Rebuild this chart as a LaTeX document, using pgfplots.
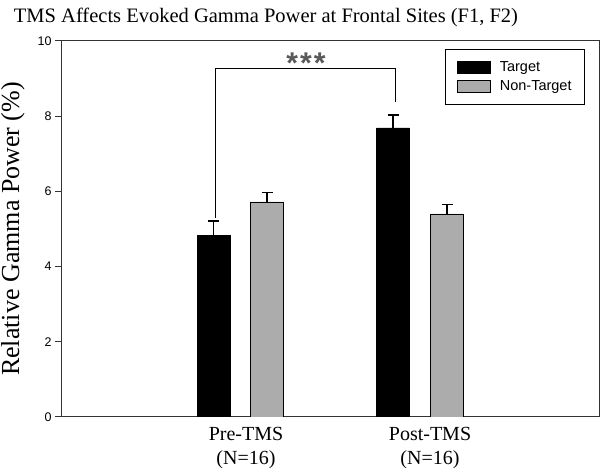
\documentclass[border=0pt]{standalone}
\usepackage{fontspec}
\setmainfont{Liberation Serif}
\newfontfamily\arial{Liberation Sans}
\usepackage{pgfplots}
\pgfplotsset{compat=1.18}
\definecolor{ntgray}{RGB}{172,172,172}

\begin{document}
\begin{tikzpicture}
\begin{axis}[
    name=ax,
    scale only axis,
    width=537pt, height=376pt,
    xmin=62, xmax=599,
    ymin=0, ymax=10,
    ytick={0,2,4,6,8,10},
    xtick={246,430},
    xticklabels={{Pre-TMS\\(N=16)},{Post-TMS\\(N=16)}},
    xticklabel style={align=center, font=\fontsize{20}{24}\selectfont},
    major x tick style={draw=none},
    yticklabel style={font=\arial\fontsize{12.5}{14}\selectfont},
    /pgf/number format/assume math mode=true,
    ytick pos=left,
    tick align=outside,
    major tick length=7pt,
    tick style={line width=1pt, black!80},
    axis line style={line width=1pt, black!80},
    ylabel={Relative Gamma Power (\%)},
    ylabel style={font=\fontsize{26}{30}\selectfont, inner sep=0pt,
        at={(axis description cs:-0.069,0.5)}, anchor=south},
    ybar, bar width=33pt, bar shift=0pt,
    legend image code/.code={
        \draw[#1, line width=0.6pt] (0pt,-6pt) rectangle (33pt,6pt);
        \path[draw=none, fill=none] (0pt,0pt) -- (41pt,0pt);},
    legend style={at={(1,1)}, xshift=-14pt, yshift=-8pt, anchor=north east,
        draw=black, line width=0.9pt, font=\arial\fontsize{14.5}{17}\selectfont,
        inner xsep=11pt, inner ysep=10pt, row sep=4pt, cells={anchor=west}},
]
% target
\addplot[fill=black, draw=black, line width=0.6pt,
    error bars/.cd, y dir=plus, y explicit,
    error bar style={line width=1.2pt, black},
    error mark options={rotate=90, mark size=5.5pt, line width=1.2pt, black}]
    coordinates {(213.5,4.84) +- (0,0.37) (393,7.69) +- (0,0.34)};
% non-target
\addplot[fill=ntgray, draw=black, line width=0.6pt,
    error bars/.cd, y dir=plus, y explicit,
    error bar style={line width=1.2pt, black},
    error mark options={rotate=90, mark size=5.5pt, line width=1.2pt, black}]
    coordinates {(267,5.72) +- (0,0.24) (447,5.40) +- (0,0.26)};
\legend{Target, Non-Target}

\draw[line width=1pt] (axis cs:215,5.3) -- (axis cs:215,9.26) -- (axis cs:395,9.26) -- (axis cs:395,8.38);
\node[font=\arial\bfseries\fontsize{30}{30}\selectfont, black!65] at (axis cs:306,9.42) {*\kern2pt*\kern2pt*};
\end{axis}
\node[font=\fontsize{20.5}{24}\selectfont] at ([shift={(204pt,24pt)}]ax.north west)
    {TMS Affects Evoked Gamma Power at Frontal Sites (F1, F2)};
\pgfresetboundingbox
\path ([shift={(-62pt,-58pt)}]ax.south west) rectangle ([shift={(2pt,41pt)}]ax.north east);
\end{tikzpicture}
\end{document}
